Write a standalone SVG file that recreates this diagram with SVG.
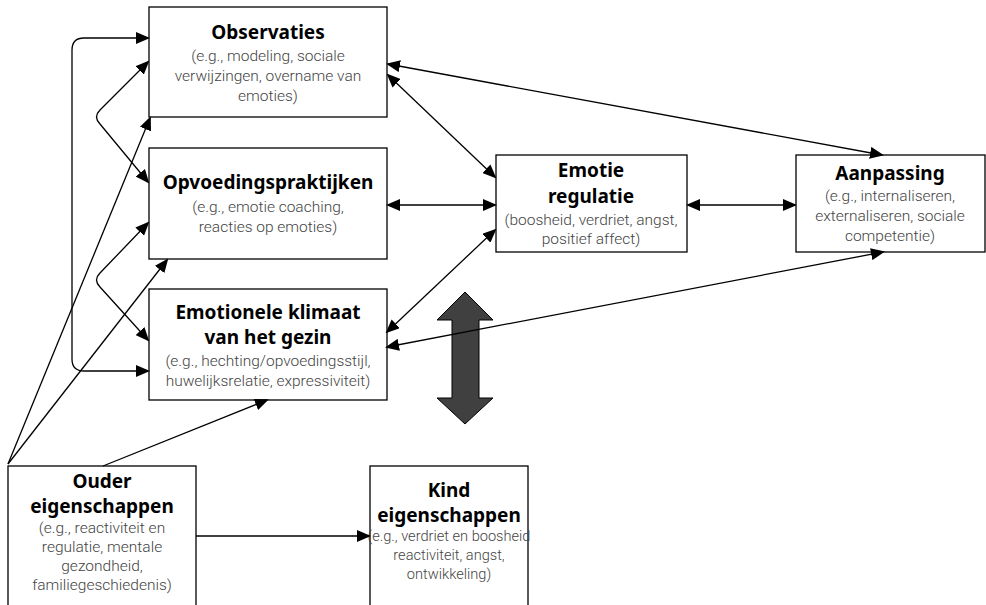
<svg xmlns="http://www.w3.org/2000/svg" width="986" height="605" viewBox="0 0 986 605">
<style>
.box{fill:#fff;stroke:#000;stroke-width:1.3}
.t{font-family:"Noto Sans","DejaVu Sans",sans-serif;font-weight:bold;font-size:19px;fill:#000;text-anchor:middle}
.b{font-family:Roboto,"Liberation Sans",sans-serif;font-weight:300;font-size:15.5px;fill:#444;text-anchor:middle}
.k{font-size:14.6px}
.c{fill:none;stroke:#000;stroke-width:1.3}
</style>
<defs>
<marker id="ah" markerUnits="userSpaceOnUse" markerWidth="14" markerHeight="12" refX="12" refY="6" orient="auto-start-reverse" viewBox="0 0 14 12">
<path d="M0,0 L14,6 L0,12 Z" fill="#000"/>
</marker>
</defs>
<rect width="986" height="605" fill="#fff"/>
<g id="observaties">
<rect class="box" x="149" y="7" width="238" height="110"/>
<text class="t" x="268" y="39">Observaties</text>
<text class="b" x="268" y="61">(e.g., modeling, sociale</text>
<text class="b" x="268" y="81">verwijzingen, overname van</text>
<text class="b" x="268" y="101">emoties)</text>
</g>
<g id="opvoeding">
<rect class="box" x="149" y="148" width="238" height="111"/>
<text class="t" x="268" y="189">Opvoedingspraktijken</text>
<text class="b" x="268" y="212">(e.g., emotie coaching,</text>
<text class="b" x="268" y="232">reacties op emoties)</text>
</g>
<g id="klimaat">
<rect class="box" x="149" y="289" width="238" height="111"/>
<text class="t" x="268" y="319">Emotionele klimaat</text>
<text class="t" x="268" y="344">van het gezin</text>
<text class="b" x="268" y="366">(e.g., hechting/opvoedingsstijl,</text>
<text class="b" x="268" y="386">huwelijksrelatie, expressiviteit)</text>
</g>
<g id="regulatie">
<rect class="box" x="496" y="155" width="191" height="97"/>
<text class="t" x="591" y="177">Emotie</text>
<text class="t" x="591" y="203">regulatie</text>
<text class="b" x="591" y="225">(boosheid, verdriet, angst,</text>
<text class="b" x="591" y="244">positief affect)</text>
</g>
<g id="aanpassing">
<rect class="box" x="796" y="155" width="189" height="97"/>
<text class="t" x="890" y="180">Aanpassing</text>
<text class="b" x="890" y="201">(e.g., internaliseren,</text>
<text class="b" x="890" y="221">externaliseren, sociale</text>
<text class="b" x="890" y="241">competentie)</text>
</g>
<g id="ouder">
<rect class="box" x="8" y="466" width="188" height="145"/>
<text class="t" x="102" y="488">Ouder</text>
<text class="t" x="102" y="513">eigenschappen</text>
<text class="b" x="102" y="533">(e.g., reactiviteit en</text>
<text class="b" x="102" y="552">regulatie, mentale</text>
<text class="b" x="102" y="571">gezondheid,</text>
<text class="b" x="102" y="590">familiegeschiedenis)</text>
</g>
<g id="kind">
<rect class="box" x="370" y="466" width="158" height="145"/>
<text class="t" x="449" y="497">Kind</text>
<text class="t" x="449" y="522">eigenschappen</text>
<text class="b k" x="449" y="541">(e.g., verdriet en boosheid</text>
<text class="b k" x="449" y="560">reactiviteit, angst,</text>
<text class="b k" x="449" y="579">ontwikkeling)</text>
</g>
<g id="bigarrow">
<polygon points="465,292 493,320 479,320 479,398 493,398 465,424 437,398 452,398 452,320 437,320" fill="#404040" stroke="#000" stroke-width="1"/>
</g>
<g id="connectors">
<path class="c" d="M148,38 H84 Q72,38 72,50 V359 Q72,371 84,371 H148" marker-start="url(#ah)" marker-end="url(#ah)"/>
<path class="c" d="M148,62 L100,110 Q93,117 100,124 L148,182" marker-start="url(#ah)" marker-end="url(#ah)"/>
<path class="c" d="M148,223 L100,273 Q93,280 100,287 L148,340" marker-start="url(#ah)" marker-end="url(#ah)"/>
<path class="c" d="M8,464 L150,118" marker-end="url(#ah)"/>
<path class="c" d="M8,464 L167,260" marker-end="url(#ah)"/>
<path class="c" d="M103,466 L267,400" marker-end="url(#ah)"/>
<path class="c" d="M196,536 L369,536" marker-end="url(#ah)"/>
<path class="c" d="M388,75 L495,177" marker-start="url(#ah)" marker-end="url(#ah)"/>
<path class="c" d="M388,205 L495,205" marker-start="url(#ah)" marker-end="url(#ah)"/>
<path class="c" d="M387,332 L495,230" marker-start="url(#ah)" marker-end="url(#ah)"/>
<path class="c" d="M688,205 L795,205" marker-start="url(#ah)" marker-end="url(#ah)"/>
<path class="c" d="M388,64 L882,155" marker-start="url(#ah)" marker-end="url(#ah)"/>
<path class="c" d="M387,347 L883,252" marker-start="url(#ah)" marker-end="url(#ah)"/>
</g>
</svg>
